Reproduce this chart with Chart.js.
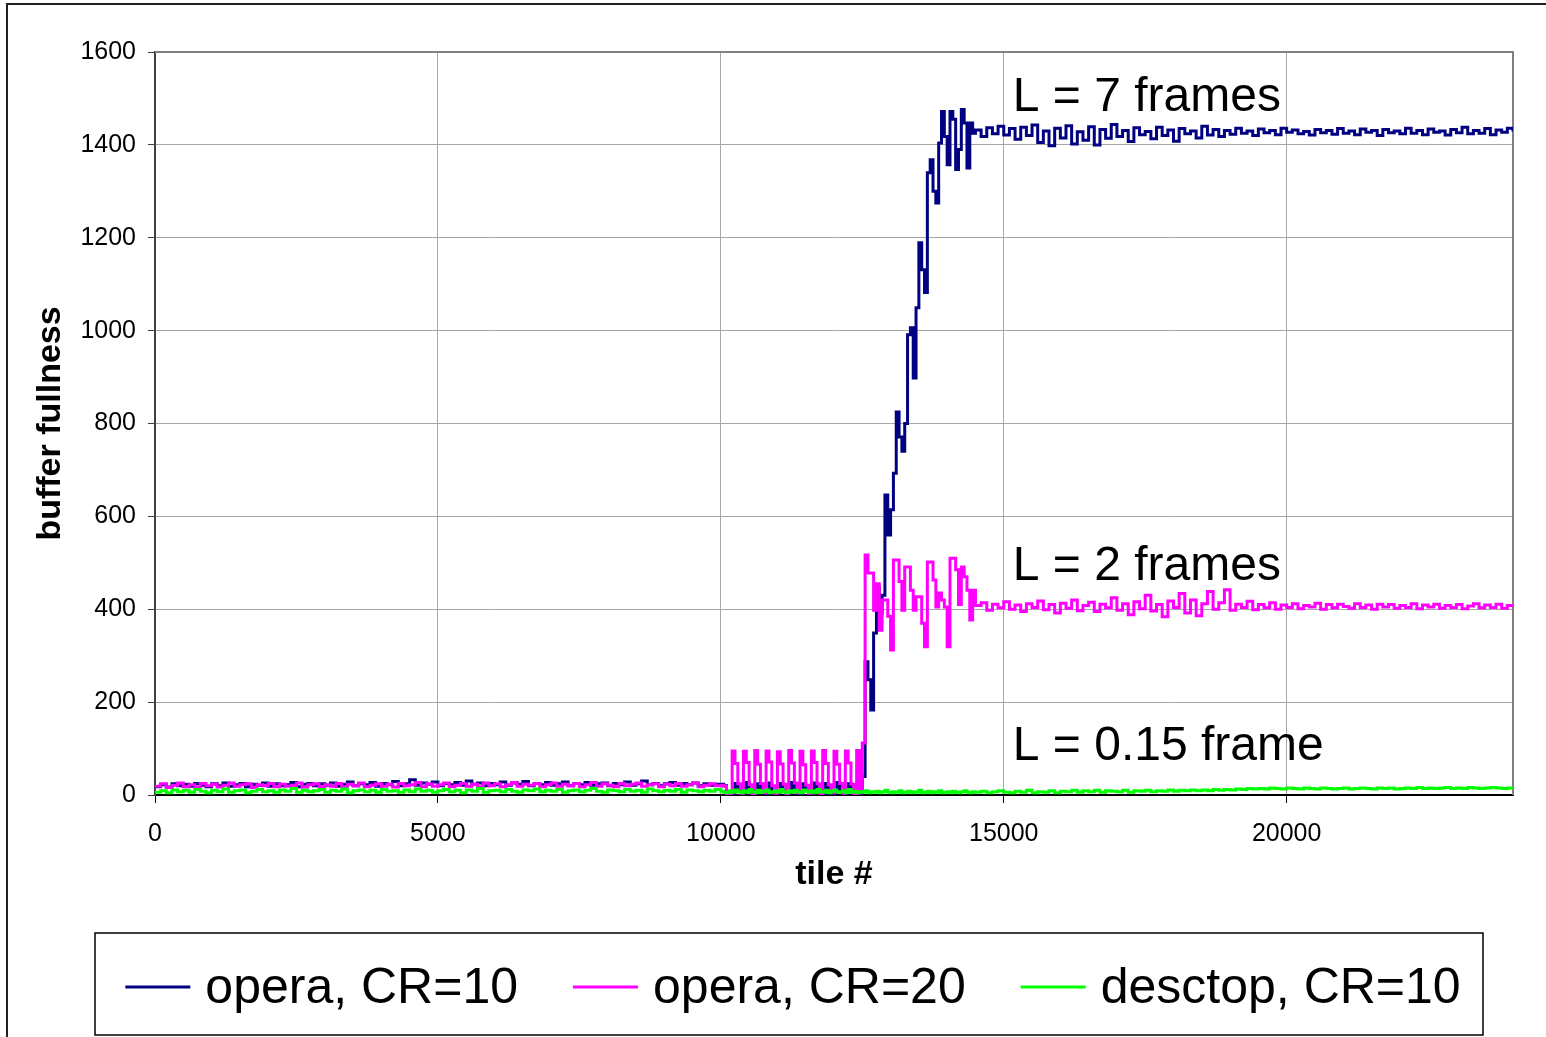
<!DOCTYPE html>
<html>
<head>
<meta charset="utf-8">
<title>buffer fullness</title>
<script src="https://cdn.jsdelivr.net/npm/chart.js@4.4.1/dist/chart.umd.min.js"></script>
<style>
html, body { margin: 0; padding: 0; background: #fff; }
canvas { display: block; }
</style>
</head>
<body>
<canvas id="bufferChart" width="1546" height="1037"></canvas>
<script>
// tile numbers: every 100 while idle/steady, every 50 during the switch-over
const tiles = [
    0, 100, 200, 300, 400, 500, 600, 700, 800, 900,
    1000, 1100, 1200, 1300, 1400, 1500, 1600, 1700, 1800, 1900,
    2000, 2100, 2200, 2300, 2400, 2500, 2600, 2700, 2800, 2900,
    3000, 3100, 3200, 3300, 3400, 3500, 3600, 3700, 3800, 3900,
    4000, 4100, 4200, 4300, 4400, 4500, 4600, 4700, 4800, 4900,
    5000, 5100, 5200, 5300, 5400, 5500, 5600, 5700, 5800, 5900,
    6000, 6100, 6200, 6300, 6400, 6500, 6600, 6700, 6800, 6900,
    7000, 7100, 7200, 7300, 7400, 7500, 7600, 7700, 7800, 7900,
    8000, 8100, 8200, 8300, 8400, 8500, 8600, 8700, 8800, 8900,
    9000, 9100, 9200, 9300, 9400, 9500, 9600, 9700, 9800, 9900,
    10000, 10050, 10100, 10150, 10200, 10250, 10300, 10350, 10400, 10450,
    10500, 10550, 10600, 10650, 10700, 10750, 10800, 10850, 10900, 10950,
    11000, 11050, 11100, 11150, 11200, 11250, 11300, 11350, 11400, 11450,
    11500, 11550, 11600, 11650, 11700, 11750, 11800, 11850, 11900, 11950,
    12000, 12050, 12100, 12150, 12200, 12250, 12300, 12350, 12400, 12450,
    12500, 12550, 12600, 12650, 12700, 12750, 12800, 12850, 12900, 12950,
    13000, 13050, 13100, 13150, 13200, 13250, 13300, 13350, 13400, 13450,
    13500, 13550, 13600, 13650, 13700, 13750, 13800, 13850, 13900, 13950,
    14000, 14050, 14100, 14150, 14200, 14250, 14300, 14350, 14400, 14450,
    14500, 14600, 14700, 14800, 14900, 15000, 15100, 15200, 15300, 15400,
    15500, 15600, 15700, 15800, 15900, 16000, 16100, 16200, 16300, 16400,
    16500, 16600, 16700, 16800, 16900, 17000, 17100, 17200, 17300, 17400,
    17500, 17600, 17700, 17800, 17900, 18000, 18100, 18200, 18300, 18400,
    18500, 18600, 18700, 18800, 18900, 19000, 19100, 19200, 19300, 19400,
    19500, 19600, 19700, 19800, 19900, 20000, 20100, 20200, 20300, 20400,
    20500, 20600, 20700, 20800, 20900, 21000, 21100, 21200, 21300, 21400,
    21500, 21600, 21700, 21800, 21900, 22000, 22100, 22200, 22300, 22400,
    22500, 22600, 22700, 22800, 22900, 23000, 23100, 23200, 23300, 23400,
    23500, 23600, 23700, 23800, 23900, 24000
];

const operaCr10 = [
    18, 22, 17, 24, 20, 23, 19, 25, 21, 18,
    24, 20, 26, 19, 22, 25, 18, 23, 21, 26,
    19, 24, 20, 22, 27, 18, 23, 25, 20, 24,
    21, 26, 19, 23, 28, 20, 24, 22, 27, 19,
    25, 22, 29, 20, 24, 33, 21, 26, 23, 28,
    20, 25, 22, 27, 21, 30, 23, 26, 20, 25,
    22, 28, 21, 26, 23, 29, 20, 25, 22, 27,
    21, 24, 28, 20, 25, 22, 27, 21, 24, 26,
    20, 25, 22, 28, 21, 24, 30, 22, 25, 20,
    24, 27, 21, 25, 22, 26, 20, 24, 21, 23,
    23, 20, 4, 2, 3, 25, 11, 2, 4, 27,
    10, 2, 3, 24, 12, 2, 4, 26, 9, 3,
    3, 25, 11, 2, 4, 27, 10, 2, 3, 24,
    12, 3, 4, 26, 9, 2, 3, 25, 11, 2,
    4, 27, 10, 3, 3, 24, 12, 2, 4, 3,
    40, 287, 248, 183, 349, 448, 392, 430, 646, 560,
    614, 693, 825, 771, 740, 800, 991, 1006, 898, 1049,
    1189, 1131, 1082, 1340, 1368, 1300, 1275, 1404, 1472, 1418,
    1357, 1472, 1455, 1347, 1390, 1476, 1447, 1350, 1447, 1425,
    1432, 1418, 1437, 1424, 1440, 1421, 1435, 1412, 1438, 1420,
    1443, 1405, 1430, 1398, 1436, 1415, 1441, 1402, 1428, 1410,
    1439, 1400, 1433, 1414, 1444, 1418, 1431, 1407, 1437, 1422,
    1429, 1413, 1438, 1420, 1432, 1408, 1435, 1424, 1430, 1415,
    1440, 1421, 1433, 1418, 1431, 1423, 1436, 1425, 1430, 1420,
    1434, 1426, 1431, 1422, 1436, 1427, 1432, 1424, 1429, 1421,
    1433, 1426, 1431, 1423, 1435, 1425, 1430, 1422, 1434, 1427,
    1431, 1420, 1433, 1426, 1430, 1424, 1436, 1425, 1431, 1422,
    1434, 1427, 1430, 1421, 1433, 1426, 1438, 1424, 1431, 1425,
    1435, 1422, 1432, 1427, 1436, 1429
];

const operaCr20 = [
    19, 24, 16, 21, 26, 18, 22, 17, 25, 20,
    23, 17, 21, 26, 19, 22, 24, 16, 22, 20,
    25, 18, 23, 19, 21, 26, 17, 22, 24, 18,
    22, 19, 25, 17, 23, 20, 26, 18, 21, 24,
    19, 23, 17, 25, 20, 22, 27, 18, 24, 19,
    22, 26, 18, 21, 25, 19, 23, 17, 26, 20,
    24, 18, 22, 27, 19, 23, 21, 25, 18, 22,
    26, 19, 23, 20, 25, 18, 22, 27, 19, 24,
    21, 18, 25, 20, 23, 26, 19, 22, 24, 18,
    23, 20, 25, 19, 22, 26, 18, 21, 24, 20,
    21, 19, 3, 2, 95, 68, 24, 4, 94, 70,
    22, 3, 96, 66, 25, 5, 95, 71, 20, 4,
    93, 67, 23, 3, 96, 69, 26, 5, 94, 65,
    21, 4, 95, 70, 24, 3, 96, 68, 22, 5,
    94, 66, 25, 4, 95, 69, 23, 3, 96, 5,
    112, 517, 478, 478, 398, 455, 355, 420, 420, 385,
    312, 506, 506, 460, 398, 491, 491, 441, 398, 427,
    427, 370, 319, 502, 502, 463, 405, 435, 420, 405,
    319, 510, 510, 485, 410, 491, 470, 441, 377, 441,
    408, 414, 398, 411, 403, 416, 400, 409, 395, 412,
    404, 418, 399, 410, 392, 413, 402, 420, 397, 408,
    415, 395, 411, 403, 425, 398, 412, 388, 416, 401,
    430, 396, 410, 384, 418, 404, 434, 392, 420, 386,
    412, 438, 400, 414, 442, 398, 411, 404, 417, 399,
    410, 403, 414, 400, 409, 404, 412, 401, 408, 405,
    413, 400, 410, 403, 411, 406, 402, 412, 404, 409,
    400, 411, 405, 410, 402, 408, 404, 412, 401, 409,
    405, 411, 402, 408, 404, 410, 401, 407, 412, 403,
    409, 404, 411, 402, 408, 406
];

const desctopCr10 = [
    6, 9, 5, 11, 7, 10, 6, 12, 8, 5,
    10, 7, 13, 6, 9, 11, 5, 8, 12, 7,
    9, 6, 11, 8, 14, 6, 10, 7, 9, 12,
    6, 10, 8, 13, 5, 9, 11, 7, 10, 6,
    12, 8, 9, 6, 11, 7, 13, 8, 10, 6,
    9, 12, 7, 10, 5, 11, 8, 14, 6, 9,
    10, 7, 12, 8, 6, 11, 9, 13, 7, 10,
    8, 12, 6, 9, 11, 7, 10, 14, 8, 6,
    11, 9, 7, 12, 8, 10, 6, 13, 9, 7,
    10, 8, 12, 6, 11, 9, 7, 10, 8, 12,
    8, 6, 5, 9, 6, 11, 7, 5, 9, 6,
    12, 7, 5, 10, 6, 8, 11, 5, 7, 9,
    6, 12, 7, 5, 9, 6, 10, 7, 5, 11,
    8, 6, 9, 5, 12, 7, 6, 10, 5, 8,
    11, 6, 7, 9, 5, 12, 6, 8, 5, 7,
    6, 9, 5, 7, 6, 8, 5, 7, 10, 6,
    5, 7, 6, 9, 5, 6, 8, 5, 7, 6,
    10, 5, 6, 8, 5, 7, 6, 9, 5, 6,
    7, 5, 8, 6, 5, 7, 9, 6, 5, 7,
    6, 8, 5, 7, 9, 6, 5, 8, 6, 10,
    5, 7, 6, 9, 5, 8, 7, 10, 6, 9,
    7, 10, 6, 9, 8, 7, 10, 6, 9, 8,
    10, 7, 9, 8, 11, 8, 10, 9, 11, 9,
    11, 9, 12, 10, 12, 11, 13, 12, 14, 13,
    14, 13, 15, 14, 13, 15, 14, 13, 15, 14,
    13, 15, 14, 13, 14, 15, 13, 14, 15, 14,
    13, 15, 14, 15, 13, 14, 15, 14, 16, 14,
    15, 14, 15, 16, 14, 15, 14, 16, 15, 14,
    15, 16, 15, 14, 15, 15
];

const seriesNames = ['opera, CR=10', 'opera, CR=20', 'desctop, CR=10'];
const seriesColors = ['#000080', '#ff00ff', '#00ff00'];
const xTickValues = [0, 5000, 10000, 15000, 20000];
const yTickValues = [0, 200, 400, 600, 800, 1000, 1200, 1400, 1600];
const noteTexts = ['L = 7 frames', 'L = 2 frames', 'L = 0.15 frame'];

const FONT = "'Liberation Sans', Arial, sans-serif";
Chart.defaults.font.family = FONT;
Chart.defaults.color = '#000';

function toPoints(values) {
    return values.map((v, i) => ({ x: tiles[i], y: v }));
}

// where the "L = ..." labels sit (tile #, buffer level of the text baseline)
const noteAnchors = [[15160, 1473], [15160, 463], [15160, 75]];

const framePlugin = {
    id: 'frame',
    beforeDatasetsDraw(chart) {
        const { ctx, chartArea: a } = chart;
        ctx.save();
        ctx.strokeStyle = '#808080';
        ctx.lineWidth = 2;
        ctx.beginPath();
        ctx.moveTo(a.left, a.top);
        ctx.lineTo(a.right, a.top);
        ctx.lineTo(a.right, a.bottom);
        ctx.stroke();
        ctx.restore();
    },
    afterDraw(chart) {
        const ctx = chart.ctx;
        const xs = chart.scales.x, ys = chart.scales.y;
        ctx.save();

        // outer frame
        ctx.strokeStyle = '#202020';
        ctx.lineWidth = 2;
        ctx.strokeRect(7, 4, 1600, 1100);

        // level notes
        ctx.fillStyle = '#000';
        ctx.font = '48px ' + FONT;
        ctx.textBaseline = 'alphabetic';
        ctx.textAlign = 'left';
        noteTexts.forEach((t, i) => {
            ctx.fillText(t, xs.getPixelForValue(noteAnchors[i][0]), ys.getPixelForValue(noteAnchors[i][1]));
        });

        // legend box
        const box = { left: 95, top: 933, right: 1483, bottom: 1035 };
        ctx.strokeStyle = '#000';
        ctx.lineWidth = 1.5;
        ctx.strokeRect(box.left, box.top, box.right - box.left, box.bottom - box.top);

        ctx.font = '50px ' + FONT;
        const lineLen = 65, gap = 15, spacing = 55;
        const widths = chart.data.datasets.map(d => ctx.measureText(d.label).width);
        const total = widths.reduce((s, w) => s + lineLen + gap + w, 0) + spacing * (widths.length - 1);
        let x = (box.left + box.right) / 2 - total / 2 + 4;
        const y = 987;
        chart.data.datasets.forEach((d, i) => {
            ctx.strokeStyle = d.borderColor;
            ctx.lineWidth = 3;
            ctx.beginPath();
            ctx.moveTo(x, y);
            ctx.lineTo(x + lineLen, y);
            ctx.stroke();
            ctx.fillStyle = '#000';
            ctx.textBaseline = 'middle';
            ctx.fillText(d.label, x + lineLen + gap, y + 2);
            x += lineLen + gap + widths[i] + spacing;
        });
        ctx.restore();
    }
};

const ctx = document.getElementById('bufferChart').getContext('2d');

const bufferChart = new Chart(ctx, {
    type: 'line',
    data: {
        datasets: [0, 1, 2].map(i => ({
            label: seriesNames[i],
            data: toPoints([operaCr10, operaCr20, desctopCr10][i]),
            borderColor: seriesColors[i],
            backgroundColor: seriesColors[i],
            borderWidth: 3,
            pointRadius: 0,
            stepped: true,
            fill: false,
            order: 2 - i // green on top, navy underneath
        }))
    },
    plugins: [framePlugin],
    options: {
        responsive: false,
        animation: false,
        devicePixelRatio: 1,
        layout: { padding: { top: 52, right: 33, bottom: 142, left: 0 } },
        plugins: {
            legend: { display: false },
            tooltip: { enabled: false }
        },
        scales: {
            x: {
                type: 'linear',
                min: 0,
                max: 24000,
                afterBuildTicks: s => { s.ticks = xTickValues.map(v => ({ value: v })); },
                afterFit: s => { s.height = 100; },
                ticks: { font: { size: 25 }, color: '#000', padding: 16, maxRotation: 0, callback: v => String(v) },
                grid: { color: '#a6a6a6', lineWidth: 1, tickLength: 8, tickColor: '#000' },
                border: { color: '#000', width: 2 },
                title: { display: true, text: 'tile #', font: { size: 34, weight: 'bold' }, padding: { top: 0, bottom: 0 } }
            },
            y: {
                min: 0,
                max: 1600,
                afterBuildTicks: s => { s.ticks = yTickValues.map(v => ({ value: v })); },
                afterFit: s => { s.width = 155; },
                ticks: { font: { size: 25 }, color: '#000', padding: 12, callback: v => String(v) },
                grid: { color: '#a6a6a6', lineWidth: 1, tickLength: 7, tickColor: '#404040' },
                border: { color: '#404040', width: 2 },
                title: { display: true, text: 'buffer fullness', font: { size: 34, weight: 'bold' }, padding: { top: 30, bottom: 0 } }
            }
        }
    }
});
</script>
</body>
</html>
